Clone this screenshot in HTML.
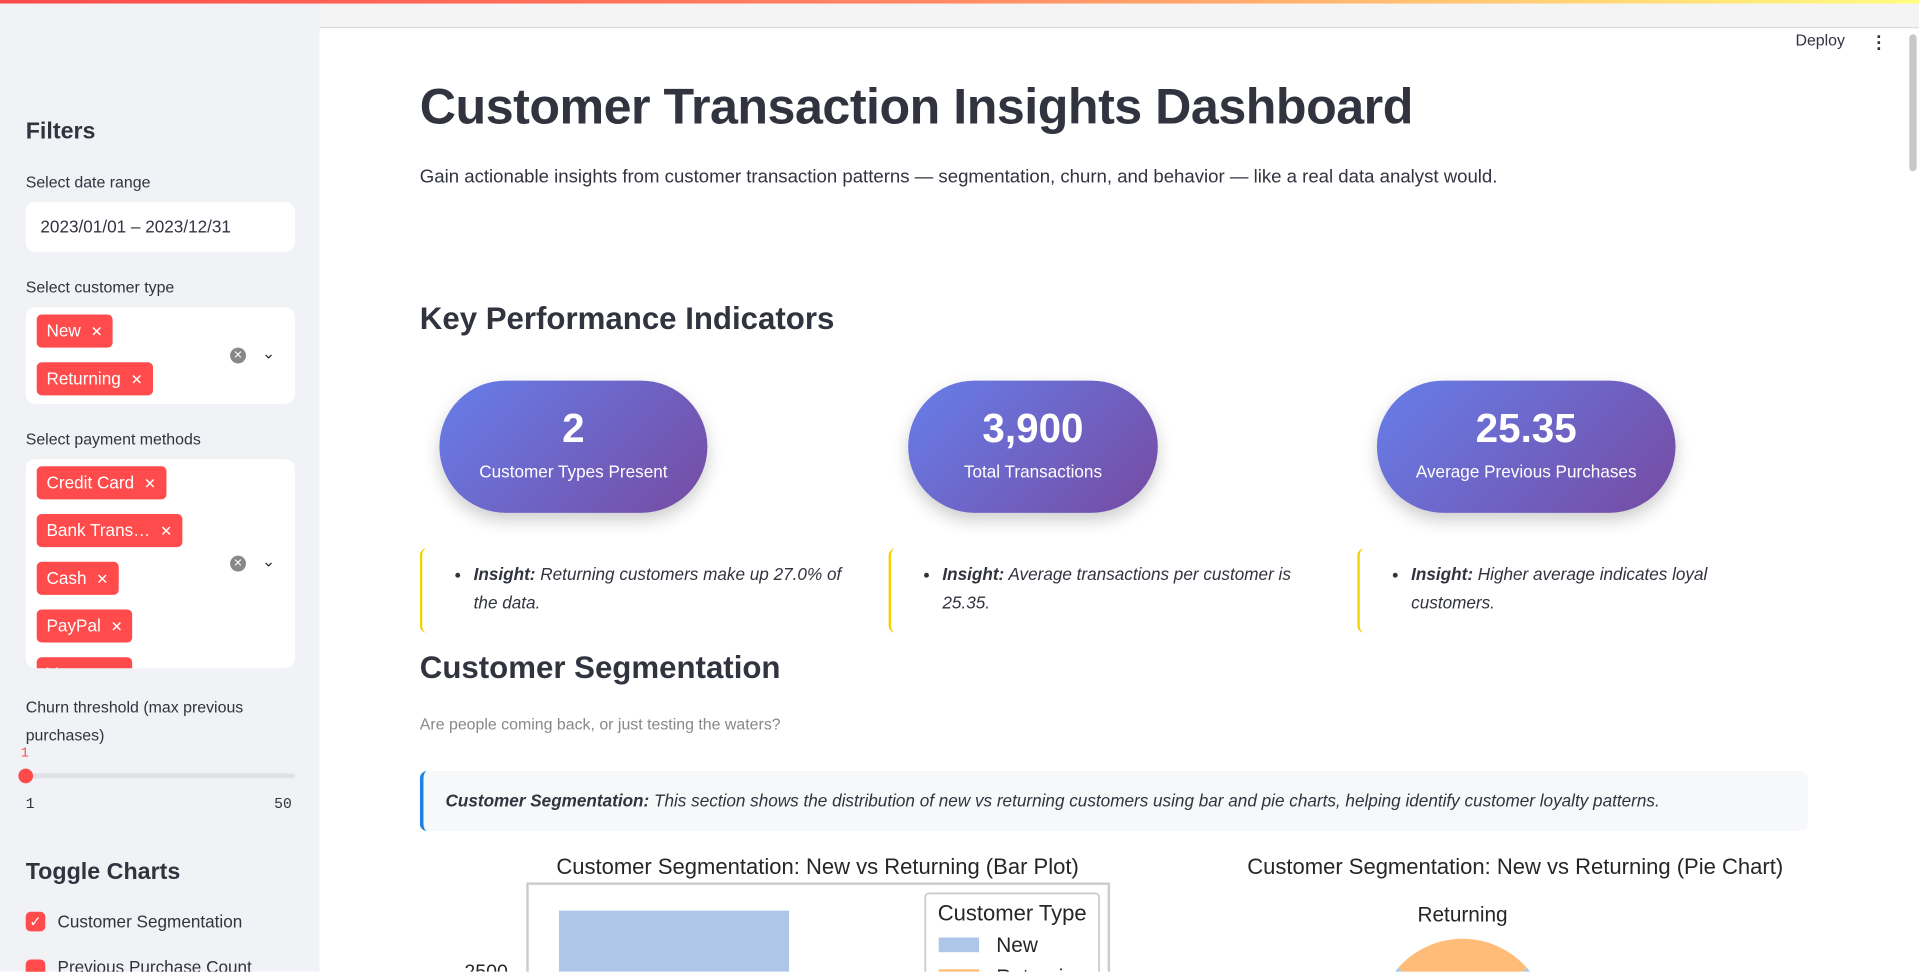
<!DOCTYPE html>
<html><head><meta charset="utf-8">
<style>
html,body{margin:0;padding:0;width:1919px;height:972px;overflow:hidden;background:#fff;font-family:"Liberation Sans",sans-serif;}
#wrap{position:absolute;left:0;top:0;width:1568px;height:794px;transform:scale(1.2239);transform-origin:0 0;overflow:hidden;background:#fff;}
.abs{position:absolute;}
#topbar{left:0;top:0;width:1568px;height:3px;background:linear-gradient(90deg,#ff4b4b,#ff8a65 50%,#fffd80);}
#sidebar{left:0;top:3px;width:261px;height:791px;background:#f0f2f6;}
.lbl{font-size:13px;color:#31333f;}
.h3{font-size:19px;font-weight:bold;color:#31333f;}
.box{background:#fff;border-radius:8px;}
.tag{position:absolute;background:#ff4b4b;color:#fff;font-size:14px;border-radius:4px;height:27px;line-height:27px;padding:0 8px;white-space:nowrap;}
.tag span{margin-left:8px;font-size:12px;}
.pill{position:absolute;top:311px;height:108px;border-radius:56px;background:linear-gradient(135deg,#667eea,#764ba2);color:#fff;text-align:center;box-shadow:0 6px 14px rgba(0,0,0,0.2);}
.pill .n{position:absolute;left:0;right:0;top:20px;font-size:33px;font-weight:bold;}
.pill .t{position:absolute;left:0;right:0;top:66px;font-size:14px;}
.ins{position:absolute;top:448px;height:69px;border-left:2px solid #f5d000;border-radius:6px;font-size:14px;font-style:italic;color:#31333f;line-height:23px;}
.ins ul{margin:0;padding:0 0 0 42px;position:absolute;top:10px;}
</style></head><body>
<div id="wrap">
<div class="abs" id="topbar"></div>
<div class="abs" id="sidebar">
</div>
<div class="abs h3" style="left:21px;top:97px;">Filters</div>
<div class="abs lbl" style="left:21px;top:141px;">Select date range</div>
<div class="abs box" style="left:21px;top:165px;width:220px;height:41px;"><div class="abs" style="left:12px;top:12px;font-size:14px;color:#31333f;">2023/01/01 – 2023/12/31</div></div>
<div class="abs lbl" style="left:21px;top:227px;">Select customer type</div>
<div class="abs box" style="left:21px;top:251px;width:220px;height:79px;">
<div class="tag" style="left:9px;top:6px;">New<span>✕</span></div>
<div class="tag" style="left:9px;top:45px;">Returning<span>✕</span></div>
<div class="abs" style="left:167px;top:33px;width:13px;height:13px;border-radius:50%;background:#888;color:#fff;font-size:9px;text-align:center;line-height:13px;">✕</div>
<div class="abs" style="left:193px;top:30px;font-size:13px;color:#31333f;">⌄</div>
</div>
<div class="abs lbl" style="left:21px;top:351px;">Select payment methods</div>
<div class="abs box" style="left:21px;top:375px;width:220px;height:171px;overflow:hidden;">
<div class="tag" style="left:9px;top:6px;">Credit Card<span>✕</span></div>
<div class="tag" style="left:9px;top:45px;">Bank Trans…<span>✕</span></div>
<div class="tag" style="left:9px;top:84px;">Cash<span>✕</span></div>
<div class="tag" style="left:9px;top:123px;">PayPal<span>✕</span></div>
<div class="tag" style="left:9px;top:162px;">Venmo<span>✕</span></div>
<div class="abs" style="left:167px;top:79px;width:13px;height:13px;border-radius:50%;background:#888;color:#fff;font-size:9px;text-align:center;line-height:13px;">✕</div>
<div class="abs" style="left:193px;top:76px;font-size:13px;color:#31333f;">⌄</div>
</div>
<div class="abs lbl" style="left:21px;top:566px;line-height:23px;width:210px;">Churn threshold (max previous purchases)</div>
<div class="abs" style="left:17px;top:610px;font-size:11px;color:#ff4b4b;font-family:'Liberation Mono',monospace;">1</div>
<div class="abs" style="left:21px;top:632px;width:220px;height:4px;background:#dfe1e6;border-radius:2px;"></div>
<div class="abs" style="left:15px;top:628px;width:12px;height:12px;border-radius:50%;background:#ff4b4b;"></div>
<div class="abs" style="left:21px;top:650px;font-size:12px;color:#31333f;font-family:'Liberation Mono',monospace;">1</div>
<div class="abs" style="left:224px;top:650px;font-size:12px;color:#31333f;font-family:'Liberation Mono',monospace;">50</div>
<div class="abs h3" style="left:21px;top:702px;">Toggle Charts</div>
<div class="abs" style="left:21px;top:745px;width:16px;height:16px;background:#ff4b4b;border-radius:4px;color:#fff;font-size:12px;text-align:center;line-height:16px;">✓</div>
<div class="abs" style="left:47px;top:745px;font-size:14px;color:#31333f;">Customer Segmentation</div>
<div class="abs" style="left:21px;top:784px;width:16px;height:16px;background:#ff4b4b;border-radius:4px;"></div>
<div class="abs" style="left:47px;top:782px;font-size:14px;color:#31333f;">Previous Purchase Count</div>

<div class="abs" style="left:261px;top:3px;width:1307px;height:19px;background:#f4f4f4;border-bottom:1px solid #ddd;"></div>
<div class="abs" style="left:1467px;top:25px;font-size:13px;color:#31333f;">Deploy</div>
<div class="abs" style="left:1533px;top:28px;font-size:15px;font-weight:bold;color:#31333f;line-height:5px;width:6px;">·<br>·<br>·</div>
<div class="abs" style="left:1560px;top:28px;width:6px;height:112px;background:#c8c8c8;border-radius:3px;"></div>

<div class="abs" style="left:343px;top:64px;font-size:41px;font-weight:bold;color:#31333f;letter-spacing:-0.4px;">Customer Transaction Insights Dashboard</div>
<div class="abs" style="left:343px;top:136px;font-size:15.2px;color:#31333f;">Gain actionable insights from customer transaction patterns — segmentation, churn, and behavior — like a real data analyst would.</div>
<div class="abs" style="left:343px;top:247px;font-size:25.5px;font-weight:bold;color:#31333f;">Key Performance Indicators</div>

<div class="pill" style="left:359px;width:219px;"><div class="n">2</div><div class="t">Customer Types Present</div></div>
<div class="pill" style="left:742px;width:204px;"><div class="n">3,900</div><div class="t">Total Transactions</div></div>
<div class="pill" style="left:1125px;width:244px;"><div class="n">25.35</div><div class="t">Average Previous Purchases</div></div>

<div class="ins" style="left:343px;width:360px;"><ul><li><b>Insight:</b> Returning customers make up 27.0% of the data.</li></ul></div>
<div class="ins" style="left:726px;width:360px;"><ul><li><b>Insight:</b> Average transactions per customer is 25.35.</li></ul></div>
<div class="ins" style="left:1109px;width:340px;"><ul><li><b>Insight:</b> Higher average indicates loyal customers.</li></ul></div>

<div class="abs" style="left:343px;top:532px;font-size:25.5px;font-weight:bold;color:#31333f;">Customer Segmentation</div>
<div class="abs" style="left:343px;top:584px;font-size:13px;color:#888;">Are people coming back, or just testing the waters?</div>
<div class="abs" style="left:343px;top:630px;width:1131px;height:49px;background:#f7f8fa;border-left:3px solid #1c83e1;border-radius:6px;"><div class="abs" style="left:18px;top:16px;font-size:14px;font-style:italic;color:#31333f;white-space:nowrap;"><b>Customer Segmentation:</b> This section shows the distribution of new vs returning customers using bar and pie charts, helping identify customer loyalty patterns.</div></div>

<svg class="abs" id="charts" style="left:0;top:0;" width="1568" height="794"></svg>
</div>
<script>
const categories = ["New","Returning"];
const counts = [2847, 1053];
const yTicks = [2500];
const pieLabels = ["New","Returning"];
const colors = ["#aec7e8","#ffbb78"];

const NS="http://www.w3.org/2000/svg";
const svg=document.getElementById('charts');
function mk(t,a,txt){const e=document.createElementNS(NS,t);for(const k in a)e.setAttribute(k,a[k]);if(txt!==undefined)e.textContent=txt;svg.appendChild(e);return e;}
const ymax=Math.max(...counts)*1.05;
const plotTop=724, plotL=431, plotR=906;
const pxPerUnit=69/(ymax-2500);
function y(v){return plotTop+(ymax-v)*pxPerUnit;}
const band=(plotR-plotL)/categories.length;
function x(i){return plotL+band*i+band*0.1;}

let t=mk('text',{x:668,y:714,'text-anchor':'middle','font-size':18,fill:'#262626','font-family':'Liberation Sans'},'Customer Segmentation: New vs Returning (Bar Plot)');


let fr=mk('rect',{x:plotL,y:722,width:plotR-plotL,height:120,fill:'#fff',stroke:'#ccc','stroke-width':2});


counts.forEach((c,i)=>{
  const r=mk('rect',{x:x(i)+2,y:y(c),width:band*0.8-2,height:900,fill:colors[i]});
  
  
});
yTicks.forEach(v=>{
  const tk=mk('text',{x:415,y:y(v)+6,'text-anchor':'end','font-size':16,fill:'#262626','font-family':'Liberation Sans'},String(v));
  
  
});
let lg=mk('rect',{x:756,y:730,width:142,height:100,fill:'#fff',stroke:'#ccc','stroke-width':1.5,rx:3});


let lt=mk('text',{x:827,y:752,'text-anchor':'middle','font-size':18,fill:'#262626','font-family':'Liberation Sans'},'Customer Type');


categories.forEach((c,i)=>{
  const p=mk('rect',{x:767,y:766+i*26,width:33,height:12,fill:colors[i]});
  
  
  const lt2=mk('text',{x:814,y:778+i*26,'font-size':17,fill:'#262626','font-family':'Liberation Sans'},c);
  
  
});
let pt=mk('text',{x:1238,y:714,'text-anchor':'middle','font-size':18,fill:'#262626','font-family':'Liberation Sans'},'Customer Segmentation: New vs Returning (Pie Chart)');


const total=counts.reduce((a,b)=>a+b,0);
const cx=1195, cy=837, R=70;
let ang=-Math.PI/2 - Math.PI*counts[1]/total;
[1,0].forEach(i=>{
  const a0=ang, a1=ang+2*Math.PI*counts[i]/total; ang=a1;
  const large=(a1-a0)>Math.PI?1:0;
  const d=`M${cx},${cy} L${cx+R*Math.cos(a0)},${cy+R*Math.sin(a0)} A${R},${R} 0 ${large} 1 ${cx+R*Math.cos(a1)},${cy+R*Math.sin(a1)} Z`;
  const s=mk('path',{d:d,fill:colors[i]});
  
  
  const mid=(a0+a1)/2;
  const lx=cx+(R+20)*Math.cos(mid), ly=cy+(R+20)*Math.sin(mid)+6;
  const l=mk('text',{x:lx,y:ly,'text-anchor':'middle','font-size':17,fill:'#262626','font-family':'Liberation Sans'},pieLabels[i]);
  
  
});
</script>
</body></html>
